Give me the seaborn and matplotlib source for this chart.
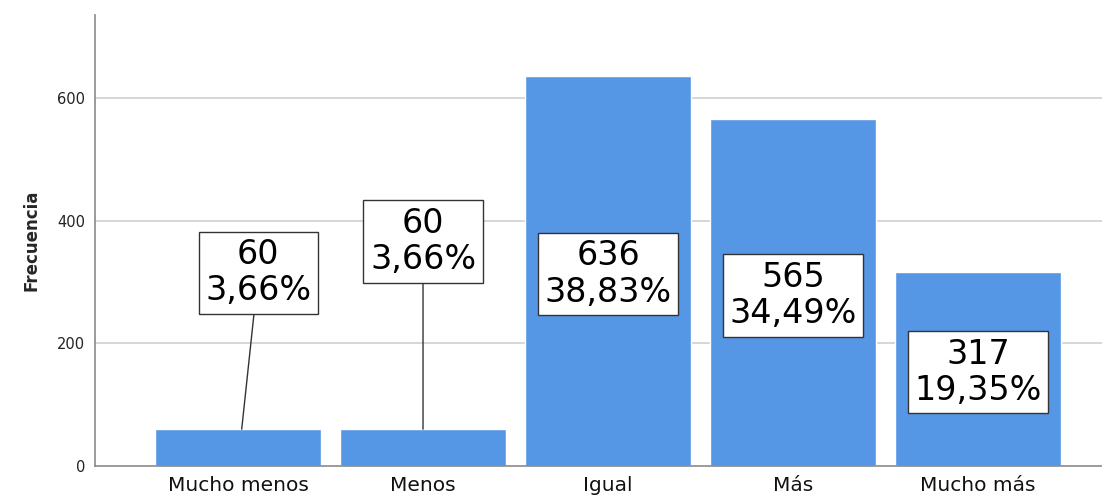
import matplotlib
matplotlib.use("Agg")
import matplotlib.pyplot as plt
import seaborn as sns
import pandas as pd

categories = ["Mucho menos", "Menos", "Igual", "Más", "Mucho más"]
counts = [60, 60, 636, 565, 317]
percents = ["3,66%", "3,66%", "38,83%", "34,49%", "19,35%"]
yticks = [0, 200, 400, 600]

# label placement (layout)
label_dx = [0.11, 0.0, 0.0, 0.0, 0.0]
label_y = [315, 366, 313, 278, 153]
leader = [True, True, False, False, False]

sns.set_theme(style="white")
plt.rcParams["font.family"] = ["DejaVu Sans"]

df = pd.DataFrame({"cat": categories, "n": counts})

fig = plt.figure(figsize=(11.02, 4.96), dpi=100)
ax = fig.add_axes([0.0862, 0.0605, 0.9138, 0.909])

for t in yticks[1:]:
    ax.axhline(t, color="#cfcfcf", lw=1.2, zorder=0)

sns.barplot(data=df, x="cat", y="n", color="#5596E5", saturation=1,
            width=0.9, ax=ax, zorder=2)

for i, (c, p) in enumerate(zip(counts, percents)):
    kw = dict(ha="center", va="center", fontsize=24, color="black",
              linespacing=1.12, zorder=5,
              bbox=dict(boxstyle="square,pad=0.2", fc="white", ec="#333333", lw=1))
    if leader[i]:
        ax.annotate(f"{c}\n{p}", xy=(i + (0.02 if label_dx[i] else 0), c),
                    xytext=(i + label_dx[i], label_y[i]),
                    arrowprops=dict(arrowstyle="-", color="#333333", lw=1,
                                    shrinkA=0, shrinkB=0), **kw)
    else:
        ax.text(i + label_dx[i], label_y[i], f"{c}\n{p}", **kw)

ax.set_xlim(-0.773, 4.67)
ax.set_ylim(0, 735)
ax.set_yticks(yticks)
ax.set_yticklabels([str(t) for t in yticks], fontsize=10.5, color="#222222")
ax.set_xlabel("")
ax.set_ylabel("Frecuencia", fontsize=12, fontweight="bold", labelpad=12)
ax.tick_params(axis="both", length=0)
ax.tick_params(axis="y", pad=7)
ax.tick_params(axis="x", pad=7)
for lab in ax.get_xticklabels():
    lab.set_fontsize(14.5)
    lab.set_color("#111111")

for s in ["top", "right"]:
    ax.spines[s].set_visible(False)
for s in ["left", "bottom"]:
    ax.spines[s].set_color("#8a8a8a")
    ax.spines[s].set_linewidth(1.2)

fig.savefig("out.png", dpi=100)
